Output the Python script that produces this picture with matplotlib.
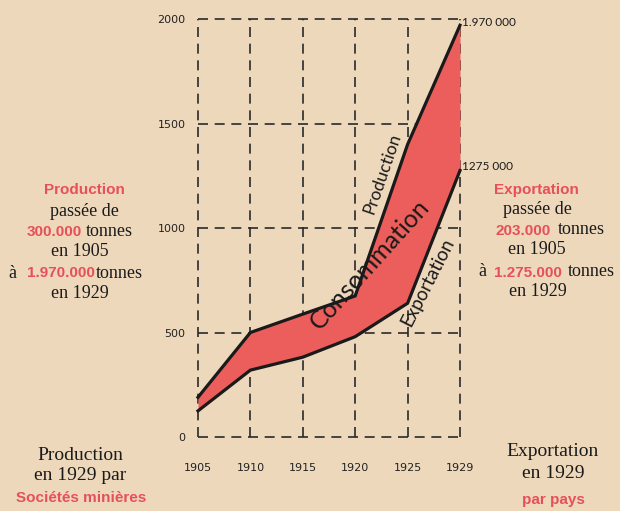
import matplotlib
matplotlib.use("Agg")
import matplotlib.pyplot as plt

years = ['1905', '1910', '1915', '1920', '1925', '1929']
production = [190, 500, 588, 675, 1400, 1970]
exportation = [125, 320, 382, 480, 640, 1275]
y_ticks = [0, 500, 1000, 1500, 2000]

BG = '#eed8bc'
RED_FILL = '#ec5e5b'
RED_TXT = '#e6505a'
INK = '#1a1a1a'

W, H = 620, 511
fig = plt.figure(figsize=(6.2, 5.11), dpi=100, facecolor=BG)
ax = fig.add_axes([198 / W, 74 / H, 262 / W, 418 / H])
ax.set_facecolor('none')
x = list(range(len(years)))
ax.set_xlim(0, len(years) - 1)
ax.set_ylim(0, 2000)
for s in ax.spines.values():
    s.set_visible(False)

# dashed grid
for xi in x:
    ax.plot([xi, xi], [0, 2000], ls=(0, (6, 4)), color='#2a2a2a', lw=1.2, zorder=1, clip_on=False)
for yv in y_ticks:
    ax.plot([0, len(years) - 1], [yv, yv], ls=(0, (6, 4)), color='#2a2a2a', lw=1.2, zorder=1, clip_on=False)

ax.fill_between(x, exportation, production, color=RED_FILL, zorder=2, lw=0)
ax.plot(x, production, color=INK, lw=2.3, zorder=3, solid_joinstyle='miter', clip_on=False)
ax.plot(x, exportation, color=INK, lw=2.3, zorder=3, solid_joinstyle='miter', clip_on=False)

ax.set_xticks(x)
ax.set_xticklabels(years)
ax.set_yticks(y_ticks)
ax.set_yticklabels([str(v) for v in y_ticks])
ax.tick_params(axis='both', length=0, labelsize=8, colors='#222222')
ax.tick_params(axis='x', pad=19)
ax.tick_params(axis='y', pad=9)

sans = ['Lato', 'DejaVu Sans']
ax.text(3.52, 1260, 'Production', rotation=71, rotation_mode='anchor', ha='center', va='center',
        fontsize=12.5, family=sans, color=INK, zorder=4)
ax.text(3.28, 825, 'Consommation', rotation=48, rotation_mode='anchor', ha='center', va='center',
        fontsize=18, family=sans, color=INK, zorder=4)
ax.text(4.38, 740, 'Exportation', rotation=63, rotation_mode='anchor', ha='center', va='center',
        fontsize=13.5, family=sans, color=INK, zorder=4)

def ft(px, py, s, **kw):
    fig.text(px / W, 1 - py / H, s, **kw)

ft(462, 22, '1.970 000', fontsize=8.5, family=sans, color=INK, ha='left', va='center')
ft(462, 166, '1275 000', fontsize=8.5, family=sans, color=INK, ha='left', va='center')

serif = 'Liberation Serif'
hdr = dict(fontsize=11, family='Liberation Sans', fontweight='bold', color=RED_TXT, va='center')
body = dict(fontsize=13, family=serif, color=INK, va='center')
body2 = dict(fontsize=14, family=serif, color=INK, va='center')

# left block
ft(84, 190, 'Production', ha='center', **hdr)
ft(84, 211, 'passée de', ha='center', **body)
ft(82, 232, '300.000', ha='right', **hdr)
ft(86, 232, 'tonnes', ha='left', **body)
ft(80, 252, 'en 1905', ha='center', **body)
ft(8, 273, 'à', ha='left', **body)
ft(27, 273, '1.970.000', ha='left', **hdr)
ft(96, 273, 'tonnes', ha='left', **body)
ft(80, 294, 'en 1929', ha='center', **body)

# right block
ft(536, 190, 'Exportation', ha='center', **hdr)
ft(537, 210, 'passée de', ha='center', **body)
ft(551, 231, '203.000', ha='right', **hdr)
ft(558, 229, 'tonnes', ha='left', **body)
ft(537, 250, 'en 1905', ha='center', **body)
ft(478, 272, 'à', ha='left', **body)
ft(494, 273, '1.275.000', ha='left', **hdr)
ft(568, 271, 'tonnes', ha='left', **body)
ft(538, 292, 'en 1929', ha='center', **body)

# bottom blocks
ft(80, 455, 'Production', ha='center', **body2)
ft(80, 476, 'en 1929 par', ha='center', **body2)
ft(81, 498, 'Sociétés minières', ha='center', **hdr)
ft(553, 452, 'Exportation', ha='center', **body2)
ft(553, 473, 'en 1929', ha='center', **body2)
ft(553, 500, 'par pays', ha='center', **hdr)

fig.savefig('out.png', dpi=100, facecolor=BG)
